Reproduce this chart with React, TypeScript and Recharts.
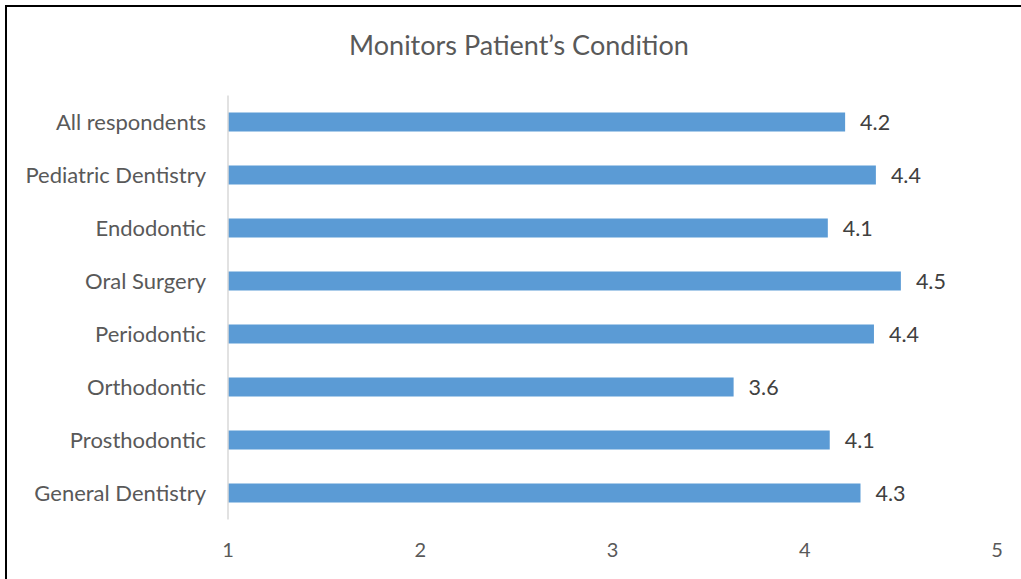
import React from "react";
import { BarChart, Bar, XAxis, YAxis, LabelList } from "recharts";

const categories = [
  "All respondents",
  "Pediatric Dentistry",
  "Endodontic",
  "Oral Surgery",
  "Periodontic",
  "Orthodontic",
  "Prosthodontic",
  "General Dentistry",
];
const scores = [4.21, 4.37, 4.12, 4.5, 4.36, 3.63, 4.13, 4.29];
const xTicks = [1, 2, 3, 4, 5];
const title = "Monitors Patient\u2019s Condition";

const data = categories.map((name, i) => ({ name, value: scores[i] }));

const FONT = "Lato, 'Open Sans', sans-serif";

export default function App() {
  return (
    <div style={{ position: "fixed", left: 0, top: 0, width: 1021, height: 579, overflow: "hidden", background: "#fff" }}>
      <div
        style={{
          position: "absolute",
          left: 5,
          top: 5,
          width: 1100,
          height: 700,
          border: "2px solid #000",
        }}
      />
      <div
        style={{
          position: "absolute",
          left: 0,
          top: 27,
          width: 1038,
          textAlign: "center",
          fontFamily: FONT,
          fontSize: 27,
          color: "#595959",
          lineHeight: "36px",
        }}
      >
        {title}
      </div>
      <div style={{ position: "absolute", left: 0, top: 0 }}>
        <BarChart
          width={1021}
          height={579}
          data={data}
          layout="vertical"
          margin={{ top: 95.5, right: 24, bottom: 0, left: 0 }}
        >
          <XAxis
            type="number"
            domain={[1, 5]}
            ticks={xTicks}
            interval={0}
            axisLine={false}
            tickLine={false}
            tickSize={0}
            tickMargin={23}
            height={59.5}
            tick={{ fill: "#595959", fontSize: 20, fontFamily: FONT }}
          />
          <YAxis
            type="category"
            dataKey="name"
            width={228}
            axisLine={{ stroke: "#d9d9d9", strokeWidth: 1.5 }}
            tickLine={false}
            tickSize={0}
            tickMargin={22}
            interval={0}
            tick={{ fill: "#595959", fontSize: 22, fontFamily: FONT }}
          />
          <Bar dataKey="value" fill="#5b9bd5" barSize={19} isAnimationActive={false}>
            <LabelList
              dataKey="value"
              position="right"
              offset={15}
              formatter={(v: number) => v.toFixed(1)}
              style={{ fill: "#404040", fontSize: 21.5, fontFamily: FONT }}
            />
          </Bar>
        </BarChart>
      </div>
    </div>
  );
}
